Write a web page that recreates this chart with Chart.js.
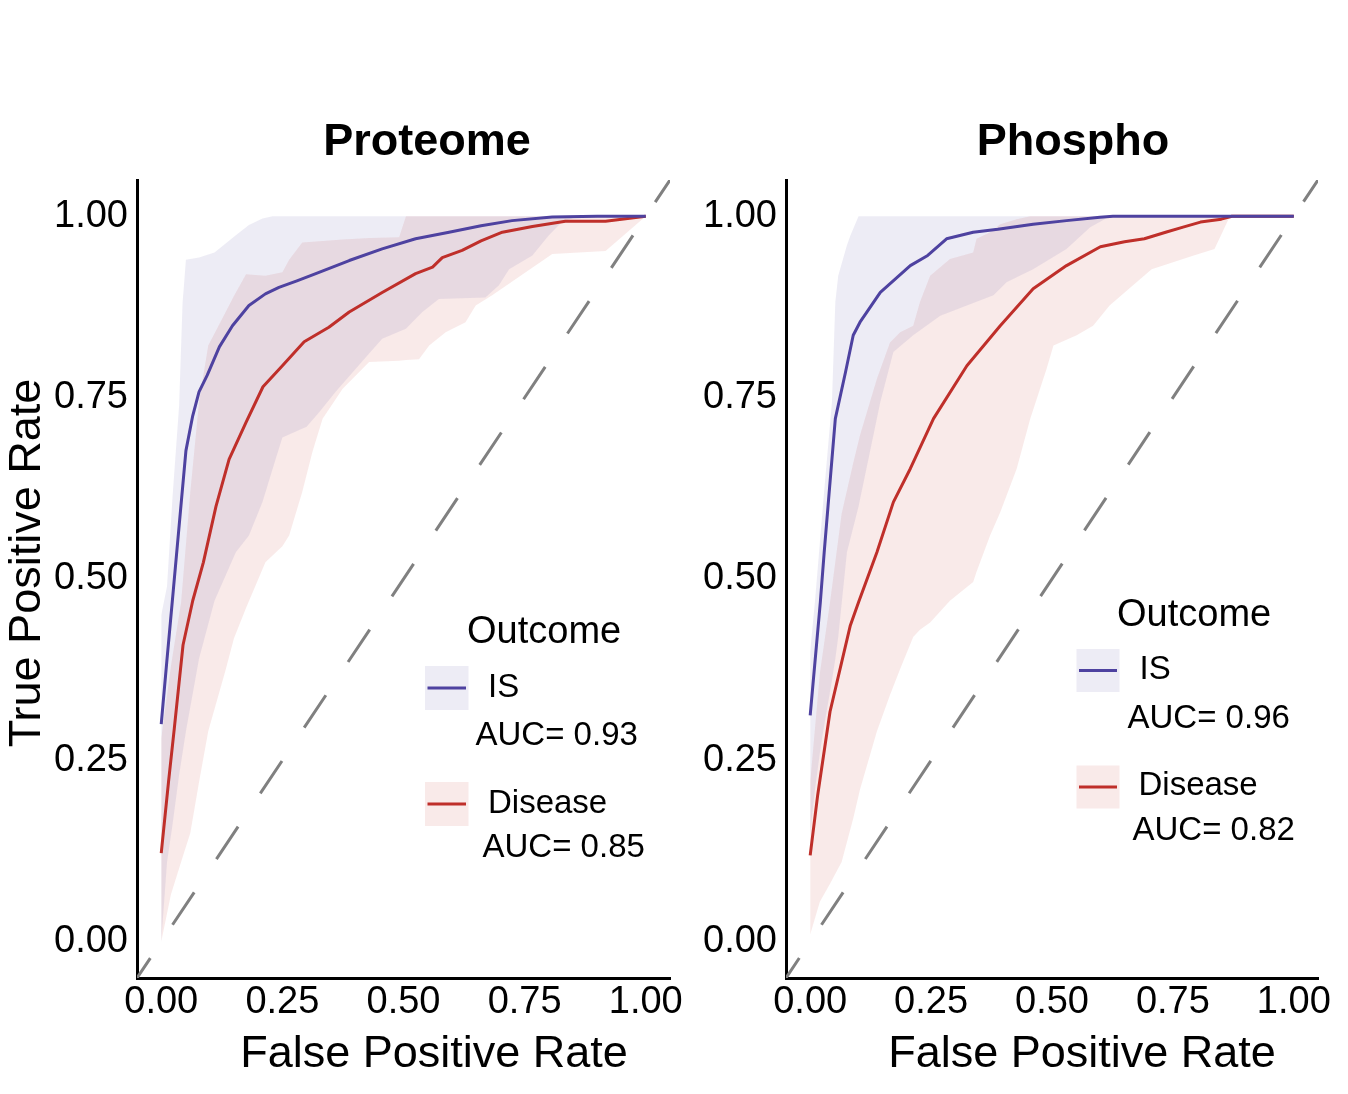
<!DOCTYPE html>
<html>
<head>
<meta charset="utf-8">
<script src="https://cdn.jsdelivr.net/npm/chart.js@4.4.1/dist/chart.umd.min.js"></script>
<style>
html,body{margin:0;padding:0;background:#ffffff;}
#wrap{position:relative;width:1348px;height:1094px;overflow:hidden;}
#wrap canvas{position:absolute;left:0;top:0;}
</style>
</head>
<body>
<div id="wrap">
<canvas id="c1" width="1348" height="1094"></canvas>
<canvas id="c2" width="1348" height="1094"></canvas>
</div>
<script>
// ---------------- DATA ----------------
const panelTitles = ['Proteome', 'Phospho'];
const outcomes = ['IS', 'Disease'];
const aucProteome = [0.93, 0.85];
const aucPhospho = [0.96, 0.82];
const fprTicks = [0, 0.25, 0.5, 0.75, 1];
const tprTicks = [0, 0.25, 0.5, 0.75, 1];
const chanceLine = [-0.05, 1.05];

// Proteome — mean ROC curves
const protIsFpr = [0, 0.012, 0.025, 0.051, 0.065, 0.078, 0.095, 0.12, 0.147, 0.181, 0.215, 0.243, 0.28, 0.319, 0.388, 0.456, 0.525, 0.594, 0.66, 0.724, 0.807, 0.9, 1.0];
const protIsTpr = [0.30, 0.39, 0.485, 0.677, 0.725, 0.758, 0.781, 0.820, 0.849, 0.877, 0.893, 0.902, 0.911, 0.921, 0.939, 0.955, 0.969, 0.978, 0.987, 0.994, 0.999, 1.0, 1.0];
const protDisFpr = [0, 0.015, 0.027, 0.045, 0.065, 0.087, 0.113, 0.14, 0.175, 0.21, 0.25, 0.295, 0.346, 0.388, 0.456, 0.525, 0.56, 0.58, 0.621, 0.66, 0.704, 0.766, 0.834, 0.917, 1.0];
const protDisTpr = [0.122, 0.22, 0.294, 0.409, 0.47, 0.523, 0.60, 0.665, 0.716, 0.765, 0.794, 0.827, 0.847, 0.868, 0.895, 0.921, 0.93, 0.943, 0.953, 0.966, 0.978, 0.986, 0.993, 0.993, 1.0];
// Proteome — confidence bands
const protIsBandX  = [0, 0.012, 0.023, 0.037, 0.044, 0.051, 0.078, 0.11, 0.154, 0.181, 0.209, 0.23, 0.25, 0.30, 0.326, 0.36, 0.415, 0.456, 0.505, 0.539, 0.573, 0.669, 0.697, 0.718, 0.766, 0.80, 0.827, 0.86, 1.0];
const protIsBandLo = [0, 0.11, 0.16, 0.23, 0.26, 0.29, 0.39, 0.47, 0.537, 0.56, 0.606, 0.652, 0.695, 0.71, 0.73, 0.758, 0.80, 0.831, 0.845, 0.868, 0.886, 0.888, 0.905, 0.927, 0.946, 0.974, 0.992, 1, 1];
const protIsBandHi = [0.45, 0.49, 0.61, 0.74, 0.88, 0.94, 0.943, 0.95, 0.974, 0.988, 0.997, 1, 1, 1, 1, 1, 1, 1, 1, 1, 1, 1, 1, 1, 1, 1, 1, 1, 1];
const protDisBandX  = [0, 0.02, 0.041, 0.06, 0.078, 0.097, 0.133, 0.15, 0.175, 0.215, 0.25, 0.264, 0.291, 0.312, 0.333, 0.374, 0.429, 0.491, 0.505, 0.532, 0.553, 0.587, 0.628, 0.649, 0.683, 0.807, 0.917, 1.0];
const protDisBandLo = [0, 0.065, 0.11, 0.15, 0.22, 0.29, 0.375, 0.418, 0.46, 0.523, 0.545, 0.56, 0.62, 0.675, 0.721, 0.762, 0.799, 0.801, 0.802, 0.803, 0.822, 0.840, 0.854, 0.877, 0.891, 0.948, 0.952, 1.0];
const protDisBandHi = [0.28, 0.38, 0.468, 0.62, 0.744, 0.822, 0.868, 0.89, 0.92, 0.918, 0.923, 0.94, 0.964, 0.965, 0.966, 0.968, 0.97, 0.971, 1, 1, 1, 1, 1, 1, 1, 1, 1, 1];

// Phospho — mean ROC curves
const phosIsFpr = [0, 0.021, 0.029, 0.037, 0.052, 0.073, 0.089, 0.103, 0.145, 0.207, 0.243, 0.282, 0.337, 0.388, 0.461, 0.53, 0.599, 0.626, 1.0];
const phosIsTpr = [0.312, 0.468, 0.537, 0.601, 0.721, 0.785, 0.836, 0.854, 0.895, 0.932, 0.946, 0.969, 0.978, 0.982, 0.989, 0.994, 0.9986, 1.0, 1.0];
const phosDisFpr = [0, 0.0155, 0.041, 0.083, 0.10, 0.138, 0.172, 0.207, 0.255, 0.324, 0.393, 0.461, 0.53, 0.60, 0.65, 0.691, 0.735, 0.771, 0.807, 0.85, 0.872, 1.0];
const phosDisTpr = [0.119, 0.202, 0.317, 0.436, 0.468, 0.537, 0.606, 0.652, 0.721, 0.794, 0.849, 0.90, 0.932, 0.958, 0.965, 0.969, 0.978, 0.985, 0.992, 0.996, 1.0, 1.0];
// Phospho — confidence bands
const phosIsBandX  = [0, 0.01, 0.02, 0.027, 0.045, 0.052, 0.058, 0.076, 0.083, 0.10, 0.145, 0.172, 0.213, 0.269, 0.324, 0.379, 0.406, 0.461, 0.53, 0.579, 0.62, 1.0];
const phosIsBandLo = [0.15, 0.21, 0.26, 0.29, 0.36, 0.39, 0.42, 0.537, 0.555, 0.60, 0.744, 0.813, 0.836, 0.863, 0.877, 0.891, 0.909, 0.927, 0.955, 0.985, 1, 1];
const phosIsBandHi = [0.40, 0.47, 0.55, 0.606, 0.744, 0.882, 0.918, 0.96, 0.973, 1, 1, 1, 1, 1, 1, 1, 1, 1, 1, 1, 1, 1];
const phosDisBandX  = [0, 0.02, 0.041, 0.065, 0.089, 0.103, 0.138, 0.165, 0.186, 0.213, 0.227, 0.248, 0.289, 0.337, 0.344, 0.372, 0.393, 0.427, 0.455, 0.489, 0.503, 0.551, 0.585, 0.619, 0.706, 0.793, 0.836, 0.865, 0.88, 1.0];
const phosDisBandLo = [0.01, 0.055, 0.08, 0.11, 0.17, 0.21, 0.29, 0.34, 0.376, 0.42, 0.43, 0.44, 0.47, 0.496, 0.51, 0.56, 0.592, 0.652, 0.721, 0.79, 0.822, 0.836, 0.849, 0.877, 0.927, 0.946, 0.955, 0.996, 1, 1];
const phosDisBandHi = [0.22, 0.37, 0.468, 0.59, 0.66, 0.698, 0.776, 0.826, 0.84, 0.849, 0.882, 0.918, 0.941, 0.95, 0.969, 0.978, 0.989, 0.996, 1, 1, 1, 1, 1, 1, 1, 1, 1, 1, 1, 1];

// ---------------- STYLE ----------------
const FONT = "'Liberation Sans', Arial, Helvetica, sans-serif";
const IS_COLOR = '#4E42A0';
const DIS_COLOR = '#BF2F2A';
const IS_FILL = 'rgba(79,67,160,0.10)';
const DIS_FILL = 'rgba(192,48,40,0.10)';
const NONE = 'rgba(0,0,0,0)';

function pts(xs, ys) { return xs.map((x, i) => ({ x: x, y: ys[i] })); }

function makeDatasets(p) {
  return [
    { label: outcomes[0], data: pts(p.isFpr, p.isTpr), borderColor: IS_COLOR, borderWidth: 3, fill: false, order: 0 },
    { label: outcomes[1], data: pts(p.disFpr, p.disTpr), borderColor: DIS_COLOR, borderWidth: 3, fill: false, order: 0 },
    { label: 'chance', data: pts(chanceLine, chanceLine), borderColor: '#808080', borderWidth: 3,
      borderDash: [39, 40], borderDashOffset: 15, borderCapStyle: 'butt', fill: false, order: 1 },
    { label: 'IS upper', data: pts(p.isBandX, p.isBandHi), borderColor: NONE, borderWidth: 0, backgroundColor: IS_FILL, fill: '+1', order: 2 },
    { label: 'IS lower', data: pts(p.isBandX, p.isBandLo), borderColor: NONE, borderWidth: 0, fill: false, order: 2 },
    { label: 'Disease upper', data: pts(p.disBandX, p.disBandHi), borderColor: NONE, borderWidth: 0, backgroundColor: DIS_FILL, fill: '+1', order: 3 },
    { label: 'Disease lower', data: pts(p.disBandX, p.disBandLo), borderColor: NONE, borderWidth: 0, fill: false, order: 3 }
  ];
}

function makeScales(yWidth) {
  const common = {
    type: 'linear', min: -0.05, max: 1.05,
    grid: { display: false, drawTicks: false },
    border: { display: true, color: '#000000', width: 3 }
  };
  return {
    x: Object.assign({}, common, {
      afterBuildTicks: s => { s.ticks = fprTicks.map(v => ({ value: v })); },
      afterFit: s => { s.height = 60; },
      ticks: { font: { family: FONT, size: 38 }, color: '#000000', padding: 2, maxRotation: 0, autoSkip: false,
               callback: v => Number(v).toFixed(2) }
    }),
    y: Object.assign({}, common, {
      afterBuildTicks: s => { s.ticks = tprTicks.map(v => ({ value: v })); },
      afterFit: s => { s.width = yWidth; },
      ticks: { font: { family: FONT, size: 38 }, color: '#000000', padding: 9, autoSkip: false,
               callback: v => Number(v).toFixed(2) }
    })
  };
}

const textPlugin = {
  id: 'panelText',
  afterDraw(chart, args, o) {
    const ctx = chart.ctx;
    ctx.save();
    ctx.fillStyle = '#000000';
    ctx.textBaseline = 'alphabetic';
    // panel title
    ctx.font = 'bold 45px ' + FONT;
    ctx.textAlign = 'center';
    ctx.fillText(o.title, o.titleX, o.titleY);
    // x axis title
    ctx.font = '45px ' + FONT;
    ctx.fillText('False Positive Rate', o.xTitleX, o.xTitleY);
    // y axis title
    if (o.yTitle) {
      ctx.save();
      ctx.translate(o.yTitleX, o.yTitleY);
      ctx.rotate(-Math.PI / 2);
      ctx.textAlign = 'center';
      ctx.fillText(o.yTitle, 0, 0);
      ctx.restore();
    }
    // legend
    const lg = o.legend;
    ctx.textAlign = 'left';
    ctx.font = '38px ' + FONT;
    ctx.fillStyle = '#000000';
    ctx.fillText('Outcome', lg.titleX, lg.titleY);
    lg.items.forEach((it, i) => {
      ctx.fillStyle = it.fill;
      ctx.fillRect(lg.boxX, it.boxY, lg.boxW, lg.boxH);
      ctx.strokeStyle = it.color;
      ctx.lineWidth = 3;
      ctx.beginPath();
      ctx.moveTo(lg.boxX + 2.5, it.boxY + lg.boxH / 2);
      ctx.lineTo(lg.boxX + lg.boxW - 2.5, it.boxY + lg.boxH / 2);
      ctx.stroke();
      ctx.fillStyle = '#000000';
      ctx.font = '33px ' + FONT;
      ctx.fillText(outcomes[i], it.labelX, it.labelY);
      ctx.fillText('AUC= ' + lg.auc[i].toFixed(2), it.aucX, it.aucY);
    });
    ctx.restore();
  }
};

function makeChart(id, p, pad, yWidth, textOpts) {
  return new Chart(document.getElementById(id), {
    type: 'line',
    data: { datasets: makeDatasets(p) },
    options: {
      responsive: false,
      animation: false,
      events: [],
      devicePixelRatio: 1,
      layout: { padding: pad },
      elements: { point: { radius: 0, hoverRadius: 0 }, line: { tension: 0, borderJoinStyle: 'round' } },
      scales: makeScales(yWidth),
      plugins: { legend: { display: false }, tooltip: { enabled: false }, panelText: textOpts }
    },
    plugins: [textPlugin]
  });
}

makeChart('c1', {
  isFpr: protIsFpr, isTpr: protIsTpr, disFpr: protDisFpr, disTpr: protDisTpr,
  isBandX: protIsBandX, isBandLo: protIsBandLo, isBandHi: protIsBandHi,
  disBandX: protDisBandX, disBandLo: protDisBandLo, disBandHi: protDisBandHi
}, { left: 0, right: 678, top: 180, bottom: 56 }, 137, {
  title: panelTitles[0], titleX: 427, titleY: 155,
  xTitleX: 434, xTitleY: 1067,
  yTitle: 'True Positive Rate', yTitleX: 40, yTitleY: 563,
  legend: {
    titleX: 467, titleY: 643, boxX: 425, boxW: 43.5, boxH: 44, auc: aucProteome,
    items: [
      { boxY: 666, color: IS_COLOR, fill: IS_FILL, labelX: 488, labelY: 697, aucX: 475.5, aucY: 745 },
      { boxY: 782, color: DIS_COLOR, fill: DIS_FILL, labelX: 488, labelY: 813, aucX: 482.5, aucY: 857 }
    ]
  }
});

makeChart('c2', {
  isFpr: phosIsFpr, isTpr: phosIsTpr, disFpr: phosDisFpr, disTpr: phosDisTpr,
  isBandX: phosIsBandX, isBandLo: phosIsBandLo, isBandHi: phosIsBandHi,
  disBandX: phosDisBandX, disBandLo: phosDisBandLo, disBandHi: phosDisBandHi
}, { left: 676, right: 30, top: 180, bottom: 56 }, 110, {
  title: panelTitles[1], titleX: 1073, titleY: 155,
  xTitleX: 1082, xTitleY: 1067,
  yTitle: null,
  legend: {
    titleX: 1117, titleY: 626, boxX: 1076.5, boxW: 43, boxH: 43, auc: aucPhospho,
    items: [
      { boxY: 649, color: IS_COLOR, fill: IS_FILL, labelX: 1139.5, labelY: 679, aucX: 1127.5, aucY: 728 },
      { boxY: 765.5, color: DIS_COLOR, fill: DIS_FILL, labelX: 1138.5, labelY: 795, aucX: 1132.5, aucY: 840 }
    ]
  }
});
</script>
</body>
</html>
